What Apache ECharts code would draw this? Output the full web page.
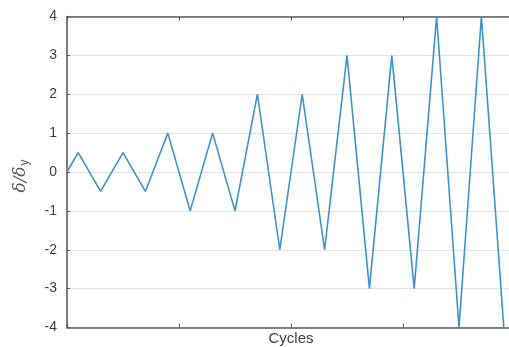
<!DOCTYPE html>
<html>
<head>
<meta charset="utf-8">
<script src="https://cdn.jsdelivr.net/npm/echarts@6/dist/echarts.min.js"></script>
<style>
  html, body { margin: 0; padding: 0; background: #fff; overflow: hidden; }
  /* the plot box runs a few pixels past the right edge of the window */
  #chart { width: 515px; height: 347px; }
</style>
</head>
<body>
<div id="chart"></div>
<script>
// Loading protocol: position along the history (quarter-cycles) and normalized displacement
const positions = [0, 1, 3, 5, 7, 9, 11, 13, 15, 17, 19, 21, 23, 25, 27, 29, 31, 33, 35, 37, 39];
const displacement = [0, 0.5, -0.5, 0.5, -0.5, 1, -1, 1, -1, 2, -2, 2, -2, 3, -3, 3, -3, 4, -4, 4, -4];
const yTicks = [-4, -3, -2, -1, 0, 1, 2, 3, 4];

const points = positions.map((p, i) => [p, displacement[i]]);

const axisGray = '#5c5c5c';
const labelGray = '#404040';
const font = '"Liberation Sans", Arial, sans-serif';

const chart = echarts.init(document.getElementById('chart'));
chart.setOption({
  animation: false,
  grid: { left: 67, right: 0, top: 16.5, bottom: 19.5, show: false, containLabel: false, outerBoundsMode: 'none' },
  xAxis: [
    {
      type: 'value', min: 0, max: 40, interval: 10,
      position: 'bottom',
      name: 'Cycles', nameLocation: 'middle', nameGap: 4,
      nameTextStyle: { color: labelGray, fontSize: 15, fontFamily: font, verticalAlign: 'top' },
      axisLine: { show: true, onZero: false, lineStyle: { color: axisGray, width: 1.6 } },
      axisTick: { show: true, inside: true, length: 4, lineStyle: { color: axisGray } },
      axisLabel: { show: false },
      splitLine: { show: false }
    },
    {
      type: 'value', min: 0, max: 40, interval: 10,
      position: 'top',
      axisLine: { show: true, onZero: false, lineStyle: { color: axisGray, width: 1.6 } },
      axisTick: { show: true, inside: true, length: 4, lineStyle: { color: axisGray } },
      axisLabel: { show: false },
      splitLine: { show: false }
    }
  ],
  yAxis: {
    type: 'value', min: yTicks[0], max: yTicks[yTicks.length - 1], interval: 1,
    name: '{d|δ/δ}{s|y}', nameLocation: 'middle', nameGap: 36, nameRotate: 90,
    nameTextStyle: {
      padding: [0, 8, 0, 0],
      rich: {
        d: { fontFamily: '"DejaVu Serif", serif', fontStyle: 'italic', fontSize: 17, color: '#555555' },
        s: { fontFamily: font, fontSize: 12, color: '#555555', verticalAlign: 'bottom', padding: [8, 0, 0, 1] }
      }
    },
    axisLine: { show: true, onZero: false, lineStyle: { color: axisGray, width: 1.6 } },
    axisTick: { show: true, inside: true, length: 3, lineStyle: { color: axisGray } },
    axisLabel: { color: labelGray, fontSize: 14, fontFamily: font, margin: 10 },
    splitLine: { show: true, lineStyle: { color: '#e4e4e4', width: 1 } }
  },
  series: [{
    type: 'line',
    data: points,
    showSymbol: false,
    clip: true,
    lineStyle: { color: '#3f93cc', width: 1.6 }
  }]
});
</script>
</body>
</html>
